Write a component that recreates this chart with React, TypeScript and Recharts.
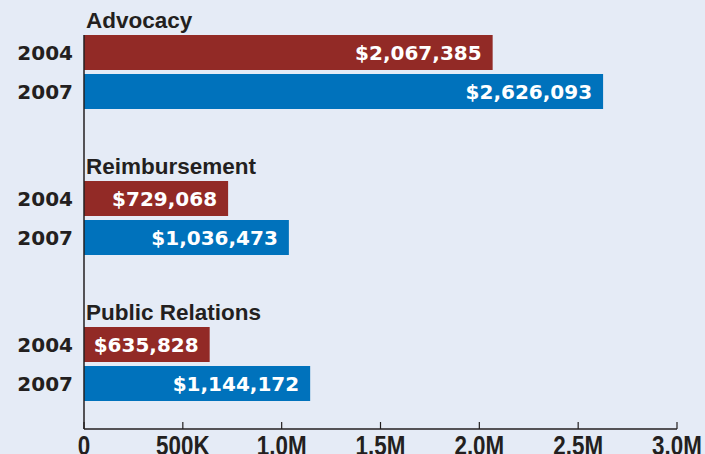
import { BarChart, Bar, XAxis, YAxis, LabelList } from 'recharts';

const categories = ['Advocacy', 'Reimbursement', 'Public Relations'];
const years = ['2004', '2007'];
const values2004 = [2067385, 729068, 635828];
const values2007 = [2626093, 1036473, 1144172];
const xTicks = [0, 500000, 1000000, 1500000, 2000000, 2500000, 3000000];
const xTickLabels = ['0', '500K', '1.0M', '1.5M', '2.0M', '2.5M', '3.0M'];

const data = categories.map((name, i) => ({ name, y2004: values2004[i], y2007: values2007[i] }));

const BG = '#e5ebf6';
const INK = '#231f20';
const RED = '#922a26';
const BLUE = '#0072bc';

const money = (v: number) => `$${Number(v).toLocaleString('en-US')}`;

function CategoryTick(props: any) {
  const { y, payload } = props;
  return (
    <g>
      <text x={86} y={y - 44} fill={INK} fontFamily="'Liberation Sans', Arial, sans-serif" fontWeight="bold" fontSize={22.5}>
        {payload.value}
      </text>
      <text x={73} y={y - 12} textAnchor="end" fill={INK} fontFamily="'DejaVu Sans', sans-serif" fontWeight="bold" fontSize={20}>
        {years[0]}
      </text>
      <text x={73} y={y + 27} textAnchor="end" fill={INK} fontFamily="'DejaVu Sans', sans-serif" fontWeight="bold" fontSize={20}>
        {years[1]}
      </text>
    </g>
  );
}

function ValueTick(props: any) {
  const { x, y, payload, index } = props;
  return (
    <g>
      <line x1={x} x2={x} y1={y} y2={y - 7} stroke={INK} strokeWidth={1.2} />
      <text
        transform={`translate(${x},${y + 26}) scale(0.8,1)`}
        textAnchor="middle"
        fill={INK}
        fontFamily="'Liberation Sans', Arial, sans-serif"
        fontWeight="bold"
        fontSize={28}
      >
        {xTickLabels[index] ?? payload.value}
      </text>
    </g>
  );
}

export default function App() {
  return (
    <div style={{ position: 'absolute', left: 0, top: 0, width: 705, height: 454, background: BG }}>
      <BarChart
        width={705}
        height={454}
        data={data}
        layout="vertical"
        margin={{ top: 35, right: 28, bottom: 0, left: 0 }}
        barSize={35}
        barGap={4}
      >
        <XAxis
          type="number"
          domain={[0, 3000000]}
          ticks={xTicks}
          height={25}
          axisLine={{ stroke: INK, strokeWidth: 1.5 }}
          tickLine={false}
          tickSize={0}
          tickMargin={0}
          tick={<ValueTick />}
          interval={0}
        />
        <YAxis
          type="category"
          dataKey="name"
          width={84}
          padding={{ top: -36, bottom: -8 }}
          axisLine={{ stroke: INK, strokeWidth: 1.5 }}
          tickLine={false}
          tick={<CategoryTick />}
          interval={0}
        />
        <Bar dataKey="y2004" fill={RED} isAnimationActive={false}>
          <LabelList
            dataKey="y2004"
            position="insideRight"
            offset={11}
            formatter={money}
            fill="#ffffff"
            fontFamily="'DejaVu Sans', sans-serif"
            fontWeight="bold"
            fontSize={20}
          />
        </Bar>
        <Bar dataKey="y2007" fill={BLUE} isAnimationActive={false}>
          <LabelList
            dataKey="y2007"
            position="insideRight"
            offset={11}
            formatter={money}
            fill="#ffffff"
            fontFamily="'DejaVu Sans', sans-serif"
            fontWeight="bold"
            fontSize={20}
          />
        </Bar>
      </BarChart>
    </div>
  );
}
